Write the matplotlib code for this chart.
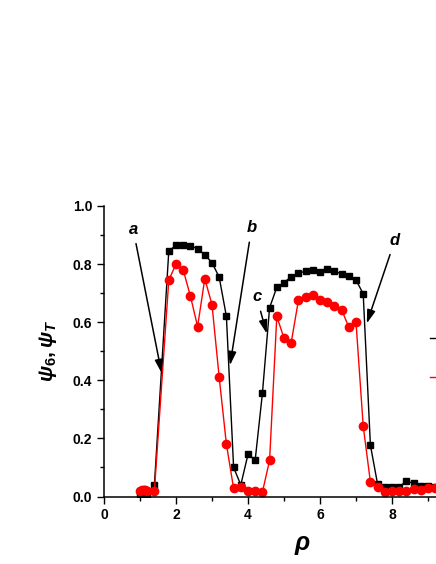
import matplotlib
matplotlib.use("Agg")
import matplotlib.pyplot as plt
from matplotlib.ticker import MultipleLocator

plt.rcParams['font.family'] = ['Liberation Sans', 'DejaVu Sans']
plt.rcParams['mathtext.fontset'] = 'custom'
plt.rcParams['mathtext.it'] = 'Liberation Sans:bold:italic'
plt.rcParams['mathtext.rm'] = 'Liberation Sans:bold'
plt.rcParams['mathtext.bf'] = 'Liberation Sans:bold'

# rho values
rho = [1.0, 1.05, 1.1, 1.15, 1.2, 1.4,
       1.8, 2.0, 2.2, 2.4, 2.6, 2.8, 3.0, 3.2, 3.4, 3.6, 3.8,
       4.0, 4.2, 4.4, 4.6, 4.8, 5.0, 5.2, 5.4, 5.6, 5.8,
       6.0, 6.2, 6.4, 6.6, 6.8, 7.0, 7.2, 7.4, 7.6, 7.8,
       8.0, 8.2, 8.4, 8.6, 8.8, 9.0, 9.2]

# black squares
psi_6 = [0.005, 0.006, 0.007, 0.008, 0.010, 0.040,
         0.845, 0.865, 0.866, 0.863, 0.853, 0.832, 0.805, 0.755, 0.620, 0.100, 0.040,
         0.145, 0.126, 0.355, 0.650, 0.720, 0.736, 0.757, 0.768, 0.776, 0.778,
         0.774, 0.784, 0.776, 0.766, 0.760, 0.745, 0.698, 0.177, 0.042, 0.033,
         0.033, 0.033, 0.053, 0.045, 0.036, 0.035, 0.033]

# red circles
psi_T = [0.018, 0.022, 0.023, 0.022, 0.020, 0.020,
         0.745, 0.800, 0.780, 0.690, 0.585, 0.750, 0.660, 0.410, 0.180, 0.028, 0.032,
         0.020, 0.018, 0.015, 0.125, 0.620, 0.545, 0.530, 0.675, 0.686, 0.692,
         0.678, 0.668, 0.657, 0.643, 0.583, 0.600, 0.243, 0.050, 0.032, 0.017,
         0.020, 0.020, 0.019, 0.025, 0.023, 0.028, 0.030]

# labels a-d: text position, arrow tip
marks = ['a', 'b', 'c', 'd']
mark_text = [(0.81, 0.92), (4.1, 0.925), (4.24, 0.687), (8.08, 0.882)]
mark_tip = [(1.6, 0.425), (3.5, 0.452), (4.52, 0.561), (7.3, 0.596)]

fig = plt.figure(figsize=(4.36, 5.64), dpi=100)
ax = fig.add_axes([104 / 436, 67.5 / 564, 396 / 436, 290.5 / 564])

ax.plot(rho, psi_6, '-s', color='black', lw=1, ms=5, label=r'$\psi_6$')
ax.plot(rho, psi_T, '-o', color='red', lw=1, ms=6, label=r'$\psi_T$')

for m, t, p in zip(marks, mark_text, mark_tip):
    ax.annotate(m, xy=p, xytext=t, fontsize=12, fontweight='bold', style='italic',
                ha='center', va='center',
                arrowprops=dict(arrowstyle='-|>,head_length=0.8,head_width=0.25',
                                color='black', lw=1.1,
                                mutation_scale=10, shrinkA=3, shrinkB=0))

ax.set_xlim(0, 11)
ax.set_ylim(0, 1.0)
ax.xaxis.set_major_locator(MultipleLocator(2))
ax.xaxis.set_minor_locator(MultipleLocator(1))
ax.yaxis.set_major_locator(MultipleLocator(0.2))
ax.yaxis.set_minor_locator(MultipleLocator(0.1))
ax.yaxis.set_major_formatter(plt.FormatStrFormatter('%.1f'))
ax.tick_params(which='both', direction='out', width=1, labelsize=10)
ax.tick_params(which='major', length=5)
ax.tick_params(which='minor', length=3)
for lab in ax.get_xticklabels() + ax.get_yticklabels():
    lab.set_fontweight('bold')

ax.spines['top'].set_visible(False)
ax.spines['right'].set_visible(False)
ax.spines['left'].set_linewidth(1.1)
ax.spines['bottom'].set_linewidth(1.1)

ax.set_xlabel(r'$\rho$', fontsize=18, labelpad=8)
ax.set_ylabel(r'$\psi_6, \psi_T$', fontsize=15, labelpad=10)

ax.legend(loc='upper left', bbox_to_anchor=(430 / 436, 1 - 331 / 564),
          bbox_transform=fig.transFigure, frameon=False, borderpad=0,
          borderaxespad=0, handlelength=2, fontsize=14, labelspacing=0.95,
          markerscale=1)

fig.savefig('out.png', dpi=100)
